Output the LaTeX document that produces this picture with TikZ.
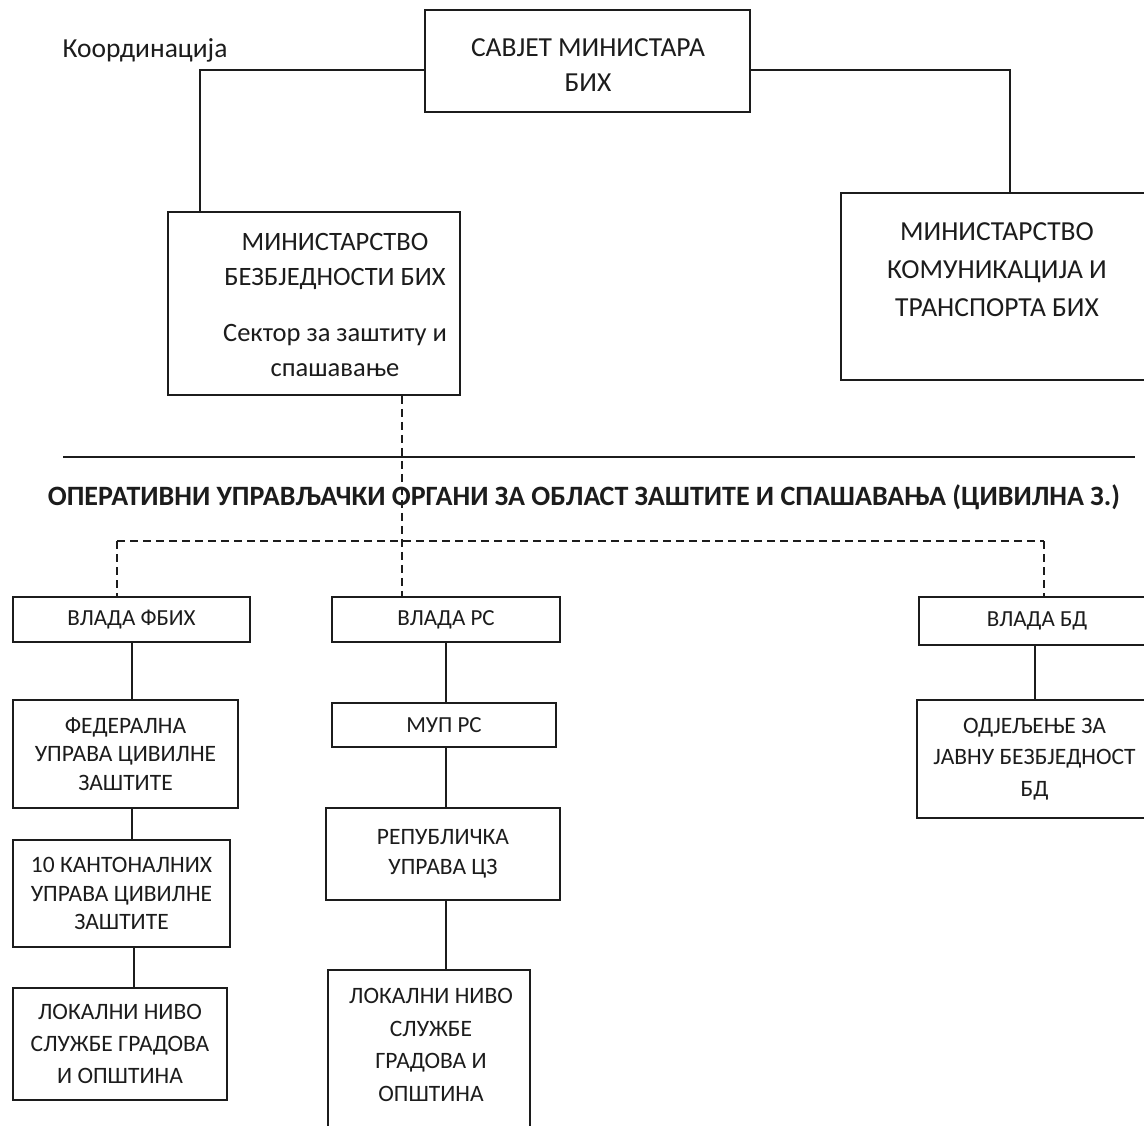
\documentclass[tikz,border=0pt]{standalone}
\usepackage{fontspec}
\setmainfont{Carlito}
\definecolor{ink}{HTML}{1C1C1C}
\begin{document}
\begin{tikzpicture}[x=1pt,y=-1pt,
  box/.style={draw=ink, line width=1.7pt, rectangle, inner sep=0pt, align=center, text=ink},
  txt/.style={inner sep=0pt, align=center, text=ink},
  bigfont/.style={font=\fontsize{27.5}{35}\selectfont},
  smallfont/.style={font=\fontsize{23.5}{28.5}\selectfont},
  govfont/.style={font=\fontsize{23}{28}\selectfont},
  conn/.style={draw=ink, line width=1.2pt},
  dashline/.style={draw=ink, line width=1.6pt, dash pattern=on 8pt off 5pt}]
\useasboundingbox[fill=white] (0,0) rectangle (1144,1126);

% --- top level ---
\node[txt, bigfont] (koord) at (145,50) {Координација};
\node[box, minimum width=325pt, minimum height=102pt] (sav) at (587.5,61) {};
\node[txt, bigfont] (savtext) at (588,65) {САВЈЕТ МИНИСТАРА\\БИХ};
\node[box, minimum width=292pt, minimum height=183pt] (mbs) at (314,303.5) {};
\node[txt, font=\fontsize{26.5}{34.5}\selectfont] (mbstext) at (335,305)
  {МИНИСТАРСТВО\\БЕЗБЈЕДНОСТИ БИХ\\[22pt]Сектор за заштиту и\\спашавање};
\node[box, minimum width=314pt, minimum height=187pt] (mkt) at (998,286.5) {};
\node[txt, font=\fontsize{27.5}{38}\selectfont] (mkttext) at (997,270)
  {МИНИСТАРСТВО\\КОМУНИКАЦИЈА И\\ТРАНСПОРТА БИХ};

\draw[conn] (sav.west |- 0,70) -| (mbs.north -| 200,0);
\draw[conn] (sav.east |- 0,70) -| (mkt.north -| 1010,0);

% --- separator and heading ---
\coordinate (sl) at (63,457);
\coordinate (sr) at (1135,457);
\draw[draw=ink, line width=1.7pt] (sl) -- (sr);
\node[txt, font=\fontsize{28}{32}\selectfont\bfseries] (head) at (584,497)
  {ОПЕРАТИВНИ УПРАВЉАЧКИ ОРГАНИ ЗА ОБЛАСТ ЗАШТИТЕ И СПАШАВАЊА (ЦИВИЛНА З.)};

% --- governments ---
\node[box, govfont, minimum width=237pt, minimum height=45pt] (vfb) at (131.5,619.5) {ВЛАДА ФБИХ};
\node[box, govfont, minimum width=228pt, minimum height=45pt] (vrs) at (446,619.5) {ВЛАДА РС};
\node[box, govfont, minimum width=236pt, minimum height=48pt] (vbd) at (1037,621) {ВЛАДА БД};

% --- FBiH column ---
\node[box, smallfont, minimum width=225pt, minimum height=108pt] (fed) at (125.5,754)
  {ФЕДЕРАЛНА\\УПРАВА ЦИВИЛНЕ\\ЗАШТИТЕ};
\node[box, smallfont, minimum width=217pt, minimum height=107pt] (kant) at (121.5,893.5)
  {10 КАНТОНАЛНИХ\\УПРАВА ЦИВИЛНЕ\\ЗАШТИТЕ};
\node[box, font=\fontsize{23.5}{32}\selectfont, minimum width=214pt, minimum height=112pt] (lokl) at (120,1044)
  {ЛОКАЛНИ НИВО\\СЛУЖБЕ ГРАДОВА\\И ОПШТИНА};

% --- RS column ---
\node[box, govfont, minimum width=224pt, minimum height=44pt] (mup) at (444,725) {МУП РС};
\node[box, font=\fontsize{23.5}{30}\selectfont, minimum width=234pt, minimum height=92pt] (rep) at (443,854)
  {РЕПУБЛИЧКА\\УПРАВА ЦЗ};
\node[box, minimum width=202pt, minimum height=170pt] (lokm) at (429,1055) {};
\node[txt, font=\fontsize{23.5}{32.5}\selectfont] (lokmtext) at (431,1045)
  {ЛОКАЛНИ НИВО\\СЛУЖБЕ\\ГРАДОВА И\\ОПШТИНА};

% --- BD column ---
\node[box, font=\fontsize{23.5}{31.5}\selectfont, minimum width=235pt, minimum height=118pt] (odj) at (1034.5,759)
  {ОДЈЕЉЕЊЕ ЗА\\ЈАВНУ БЕЗБЈЕДНОСТ\\БД};

% --- solid connectors ---
\draw[conn] (vfb.south -| 132,0) -- (fed.north -| 132,0);
\draw[conn] (fed.south -| 132,0) -- (kant.north -| 132,0);
\draw[conn] (kant.south -| 134,0) -- (lokl.north -| 134,0);
\draw[conn] (vrs.south -| 446,0) -- (mup.north -| 446,0);
\draw[conn] (mup.south -| 446,0) -- (rep.north -| 446,0);
\draw[conn] (rep.south -| 446,0) -- (lokm.north -| 446,0);
\draw[conn] (vbd.south -| 1035,0) -- (odj.north -| 1035,0);

% --- dashed connectors ---
\coordinate (dl) at (117,541);
\coordinate (dr) at (1044,541);
\draw[dashline] (mbs.south -| 402,0) -- (vrs.north -| 402,0);
\draw[dashline] (dl) -- (dr);
\draw[dashline] (dl) -- (vfb.north -| dl);
\draw[dashline] (dr) -- (vbd.north -| dr);
\end{tikzpicture}
\end{document}
